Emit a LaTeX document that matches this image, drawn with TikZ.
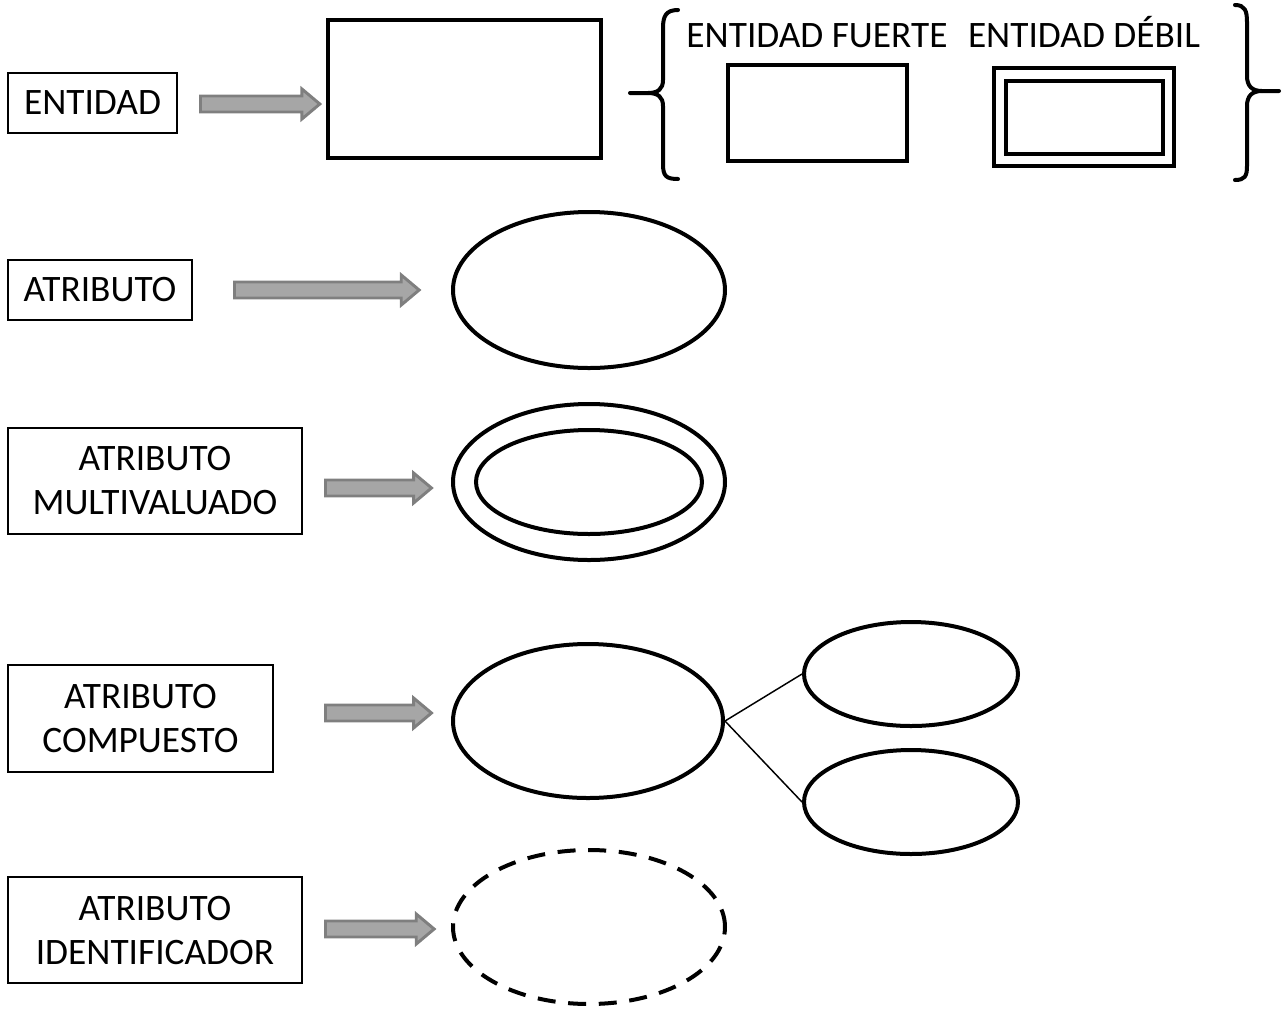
\documentclass[tikz,border=0pt]{standalone}
\usepackage{fontspec}
\setmainfont{Carlito}
\usetikzlibrary{shapes.geometric,shapes.arrows}
\definecolor{arrfill}{HTML}{A6A6A6}
\definecolor{arrdraw}{HTML}{7F7F7F}
\tikzset{
  label box/.style={draw, line width=1.1pt, inner sep=0pt, align=center, font=\fontsize{28}{33}\selectfont},
  title text/.style={inner sep=0pt, anchor=base, font=\fontsize{28}{33}\selectfont},
  thick rect/.style={draw, line width=3pt},
  attr/.style={draw, ellipse, line width=3pt, inner sep=0pt},
  gray arrow/.style={single arrow, draw=arrdraw, fill=arrfill, line width=2.2pt,
    inner sep=4.9pt, minimum width=20.25pt, single arrow head extend=5.25pt,
    single arrow tip angle=80, anchor=west},
  brace/.style={line width=3pt, line cap=round},
}
\begin{document}
\begin{tikzpicture}[x=0.75pt,y=-0.75pt]
\useasboundingbox (0,0) rectangle (1282,1008);
% ---- ENTIDAD
\node[label box, minimum width=126.75pt, minimum height=45pt] (ent) at (92.5,103) {ENTIDAD};
\node[gray arrow, minimum height=89.5pt] (a1) at (199,104) {};
\node[thick rect, minimum width=204.75pt, minimum height=103.5pt] (entbox) at (464.5,89) {};
\node[title text] (tfuerte) at (817,47) {ENTIDAD FUERTE};
\node[title text] (tdebil) at (1084,47) {ENTIDAD DÉBIL};
\node[thick rect, minimum width=134.25pt, minimum height=72pt] (fuerte) at (817.5,113) {};
\node[thick rect, minimum width=135pt, minimum height=73.5pt] (debil) at (1084,117) {};
\node[thick rect, minimum width=117.75pt, minimum height=54.75pt] (debilin) at (debil) {};
% braces
\draw[brace] (678,10) .. controls (666,10) and (663,16) .. (663,28)
  -- (663,80) .. controls (663,89) and (658,93) .. (648,93) -- (630,93);
\draw[brace] (648,93) .. controls (658,93) and (663,97) .. (663,106)
  -- (663,164) .. controls (663,176) and (666,179) .. (678,179);
\draw[brace] (1235,5) .. controls (1245,5) and (1247,11) .. (1247,22)
  -- (1247,76) .. controls (1247,86) and (1252,91) .. (1262,91) -- (1279,91);
\draw[brace] (1262,91) .. controls (1252,91) and (1247,96) .. (1247,106)
  -- (1247,166) .. controls (1247,176) and (1245,180) .. (1235,180);
% ---- ATRIBUTO
\node[label box, minimum width=138pt, minimum height=45pt] (atr) at (100,290) {ATRIBUTO};
\node[gray arrow, minimum height=138.5pt] (a2) at (233,290) {};
\node[attr, minimum width=204pt, minimum height=117pt] (e1) at (589,290) {};
% ---- ATRIBUTO MULTIVALUADO
\node[label box, minimum width=220.5pt, minimum height=79.5pt] (multi) at (155,481) {ATRIBUTO\\MULTIVALUADO};
\node[gray arrow, minimum height=79.5pt] (a3) at (324,488) {};
\node[attr, minimum width=204pt, minimum height=117pt] (e2) at (589,482) {};
\node[attr, minimum width=169.5pt, minimum height=78pt] (e2in) at (589,482) {};
% ---- ATRIBUTO COMPUESTO
\node[label box, minimum width=198.75pt, minimum height=80.25pt] (comp) at (140.5,718.5) {ATRIBUTO\\COMPUESTO};
\node[gray arrow, minimum height=79.5pt] (a4) at (324,713) {};
\node[attr, minimum width=202.5pt, minimum height=115.5pt] (e3) at (588,721) {};
\node[attr, minimum width=160.5pt, minimum height=78pt] (c1) at (911,674) {};
\node[attr, minimum width=160.5pt, minimum height=78pt] (c2) at (911,802) {};
\draw[line width=1.1pt] (e3.east) -- (c1.west);
\draw[line width=1.1pt] (e3.east) -- (c2.west);
% ---- ATRIBUTO IDENTIFICADOR
\node[label box, minimum width=220.5pt, minimum height=79.5pt] (ident) at (155,930) {ATRIBUTO\\IDENTIFICADOR};
\node[gray arrow, minimum height=81.5pt] (a5) at (324,929) {};
\node[attr, dash pattern=on 13.5pt off 9.5pt, minimum width=204pt, minimum height=115.5pt] (e4) at (589,927) {};
\end{tikzpicture}
\end{document}
